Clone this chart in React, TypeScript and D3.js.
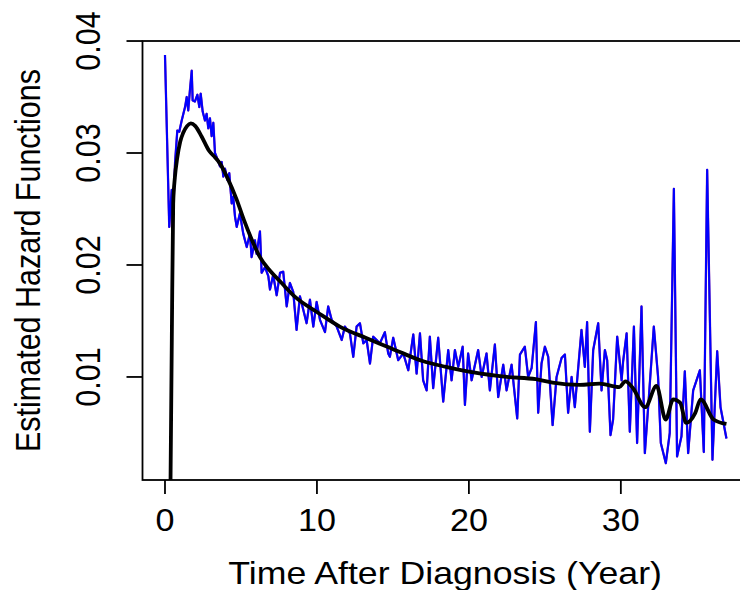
import React from "react";
import * as d3 from "d3";

// ---- data ----
const xTicks = [0, 10, 20, 30];
const yTicks = [0.01, 0.02, 0.03, 0.04];
const yTickLabels = ["0.01", "0.02", "0.03", "0.04"];
const xLimits = [0, 37];
const yLimits = [0.00225, 0.03855];

const blueTime = [0, 0.28, 0.44, 0.51, 0.66, 0.81, 0.94, 1.10, 1.32, 1.43, 1.53, 1.64, 1.76, 1.82, 1.97, 2.13, 2.26, 2.35, 2.48, 2.63, 2.74, 2.85, 2.96, 3.07, 3.18, 3.29, 3.44, 3.62, 3.73, 3.84, 3.95, 4.10, 4.23, 4.39, 4.49, 4.61, 4.72, 4.93, 5.15, 5.38, 5.59, 5.70, 5.92, 6.03, 6.25, 6.36, 6.58, 6.80, 6.91, 7.12, 7.35, 7.57, 7.78, 8.01, 8.22, 8.44, 8.66, 8.88, 9.10, 9.32, 9.54, 9.76, 9.98, 10.20, 10.53, 10.74, 10.97, 11.30, 11.63, 11.84, 12.17, 12.39, 12.61, 12.83, 13.05, 13.27, 13.49, 13.70, 13.93, 14.14, 14.47, 14.69, 14.80, 15.02, 15.35, 15.68, 16.01, 16.34, 16.56, 16.78, 16.99, 17.22, 17.43, 17.65, 17.98, 18.31, 18.64, 18.86, 19.08, 19.30, 19.59, 19.74, 19.95, 20.18, 20.61, 20.84, 21.16, 21.38, 21.71, 21.93, 22.26, 22.48, 22.81, 23.18, 23.36, 23.68, 23.90, 24.13, 24.41, 24.56, 24.78, 25.00, 25.22, 25.51, 25.77, 26.10, 26.32, 26.53, 26.76, 26.97, 27.41, 27.63, 27.78, 27.96, 28.18, 28.51, 28.73, 28.95, 29.10, 29.32, 29.49, 29.76, 30.05, 30.15, 30.38, 30.59, 30.86, 31.07, 31.36, 31.58, 31.86, 32.17, 32.45, 32.63, 32.96, 33.22, 33.49, 33.70, 33.99, 34.21, 34.43, 34.76, 34.98, 35.20, 35.46, 35.68, 36.03, 36.34, 36.56, 36.95];
const blueHazard = [0.03875, 0.0234, 0.0267, 0.0234, 0.0291, 0.0320, 0.0319, 0.0329, 0.0341, 0.0350, 0.0338, 0.0356, 0.03735, 0.0347, 0.0346, 0.0352, 0.0341, 0.0353, 0.0337, 0.0329, 0.0335, 0.0322, 0.0331, 0.0315, 0.0327, 0.0300, 0.0295, 0.0288, 0.0292, 0.0279, 0.0286, 0.0276, 0.0282, 0.0255, 0.0261, 0.0243, 0.0234, 0.0246, 0.0228, 0.0216, 0.0228, 0.0207, 0.0222, 0.0210, 0.0230, 0.0193, 0.0198, 0.0190, 0.0178, 0.0191, 0.0173, 0.0193, 0.0194, 0.0163, 0.0184, 0.0176, 0.0142, 0.0172, 0.0160, 0.0148, 0.0169, 0.0145, 0.0167, 0.0151, 0.0140, 0.0163, 0.0151, 0.0145, 0.0133, 0.0145, 0.0139, 0.0118, 0.0145, 0.0148, 0.0130, 0.0133, 0.0112, 0.0136, 0.0133, 0.0130, 0.0140, 0.0121, 0.0118, 0.0135, 0.0115, 0.0121, 0.0106, 0.0138, 0.0103, 0.0139, 0.0097, 0.0088, 0.0136, 0.0090, 0.0135, 0.0078, 0.0124, 0.0097, 0.0124, 0.0109, 0.0127, 0.0075, 0.0121, 0.0097, 0.0124, 0.0100, 0.0121, 0.0088, 0.0129, 0.0082, 0.0111, 0.0088, 0.0111, 0.0063, 0.0120, 0.0127, 0.0100, 0.0108, 0.0149, 0.0068, 0.0112, 0.0127, 0.0118, 0.0057, 0.0100, 0.0117, 0.0120, 0.0068, 0.0100, 0.0073, 0.0142, 0.0109, 0.0149, 0.0051, 0.0124, 0.0148, 0.0088, 0.0124, 0.0115, 0.0048, 0.0062, 0.0136, 0.0097, 0.0114, 0.0139, 0.0051, 0.0145, 0.0041, 0.0163, 0.0032, 0.0085, 0.0145, 0.0100, 0.0041, 0.0023, 0.0050, 0.0268, 0.0029, 0.0047, 0.0105, 0.0032, 0.0088, 0.0097, 0.0106, 0.0033, 0.0285, 0.0026, 0.0123, 0.0073, 0.0045];

const smoothTime = [0.36, 0.45, 0.54, 0.65, 0.8, 1.0, 1.2, 1.45, 1.7, 2.0, 2.4, 2.9, 3.3, 3.6, 4.1, 4.7, 5.2, 5.7, 6.25, 6.9, 7.6, 8.6, 10.0, 11.5, 13.2, 14.8, 15.5, 17.0, 18.5, 20.3, 22.5, 24.4, 25.5, 27.3, 28.6, 29.9, 30.3, 30.8, 31.6, 32.35, 32.95, 33.45, 33.9, 34.3, 34.9, 35.25, 36.1, 36.95];
const smoothHazard = [0.0, 0.0135, 0.0255, 0.0278, 0.0295, 0.0310, 0.0318, 0.0324, 0.03265, 0.0324, 0.0315, 0.0302, 0.0296, 0.0291, 0.0278, 0.0259, 0.0240, 0.0223, 0.0207, 0.0195, 0.0185, 0.0171, 0.0158, 0.0145, 0.0135, 0.0126, 0.0122, 0.0114, 0.0109, 0.0104, 0.0100, 0.0098, 0.0095, 0.0093, 0.0094, 0.0091, 0.0096, 0.0090, 0.0073, 0.0092, 0.0062, 0.0080, 0.0077, 0.0059, 0.0068, 0.0080, 0.0062, 0.0058];

const W = 740;
const H = 590;
const FONT = "'Liberation Sans', Arial, Helvetica, sans-serif";
const SX = 1.12; // horizontal stretch of the reference text
const SX_LABEL = 1.17;

export default function App() {
  const padX = (xLimits[1] - xLimits[0]) * 0.04;
  const padY = (yLimits[1] - yLimits[0]) * 0.04;
  const left = 142.5, right = 749.7, top = 41, bottom = 480;
  const x = d3.scaleLinear().domain([xLimits[0] - padX, xLimits[1] + padX]).range([left, right]);
  const y = d3.scaleLinear().domain([yLimits[0] - padY, yLimits[1] + padY]).range([bottom, top]);

  const blue = d3.zip(blueTime, blueHazard) as [number, number][];
  const smooth = d3.zip(smoothTime, smoothHazard) as [number, number][];
  const rawLine = d3.line<[number, number]>().x(d => x(d[0])).y(d => y(d[1]));
  const smoothLine = d3.line<[number, number]>().x(d => x(d[0])).y(d => y(d[1])).curve(d3.curveMonotoneX);

  const cx = (left + right) / 2;
  const cy = (top + bottom) / 2;

  return (
    <svg width={W} height={H} style={{ position: "absolute", left: 0, top: 0, background: "#fff" }}>
      <defs>
        <clipPath id="plotclip">
          <rect x={left} y={top} width={right - left} height={bottom - top} />
        </clipPath>
      </defs>
      <rect x={0} y={0} width={W} height={H} fill="#fff" />
      <g clipPath="url(#plotclip)" fill="none" strokeLinejoin="round">
        <path d={rawLine(blue) || ""} stroke="#8e2a9a" strokeWidth={2.3} />
        <path d={rawLine(blue) || ""} stroke="#0000ff" strokeWidth={2.0} />
        <path d={smoothLine(smooth) || ""} stroke="#000" strokeWidth={3.8} />
      </g>
      <rect x={left} y={top} width={right - left} height={bottom - top} fill="none" stroke="#000" strokeWidth={1.8} />
      {xTicks.map(t => (
        <g key={"xt" + t}>
          <line x1={x(t)} x2={x(t)} y1={bottom} y2={bottom + 14} stroke="#000" strokeWidth={1.8} />
          <text transform={`translate(${x(t)},${531}) scale(${SX},1)`} textAnchor="middle" fontFamily={FONT} fontSize={30.5} fill="#000">{t}</text>
        </g>
      ))}
      {yTicks.map((t, i) => (
        <g key={"yt" + t}>
          <line x1={left - 16} x2={left} y1={y(t)} y2={y(t)} stroke="#000" strokeWidth={1.8} />
          <text transform={`translate(${100},${y(t)}) scale(${SX},1) rotate(-90)`} textAnchor="middle" fontFamily={FONT} fontSize={30.5} fill="#000">{yTickLabels[i]}</text>
        </g>
      ))}
      <text transform={`translate(${cx - 1},${583.5}) scale(${SX_LABEL},1)`} textAnchor="middle" fontFamily={FONT} fontSize={30.5} fill="#000">Time After Diagnosis (Year)</text>
      <text transform={`translate(${40},${cy}) scale(${SX},1) rotate(-90)`} textAnchor="middle" fontFamily={FONT} fontSize={30.5} fill="#000">Estimated Hazard Functions</text>
    </svg>
  );
}
